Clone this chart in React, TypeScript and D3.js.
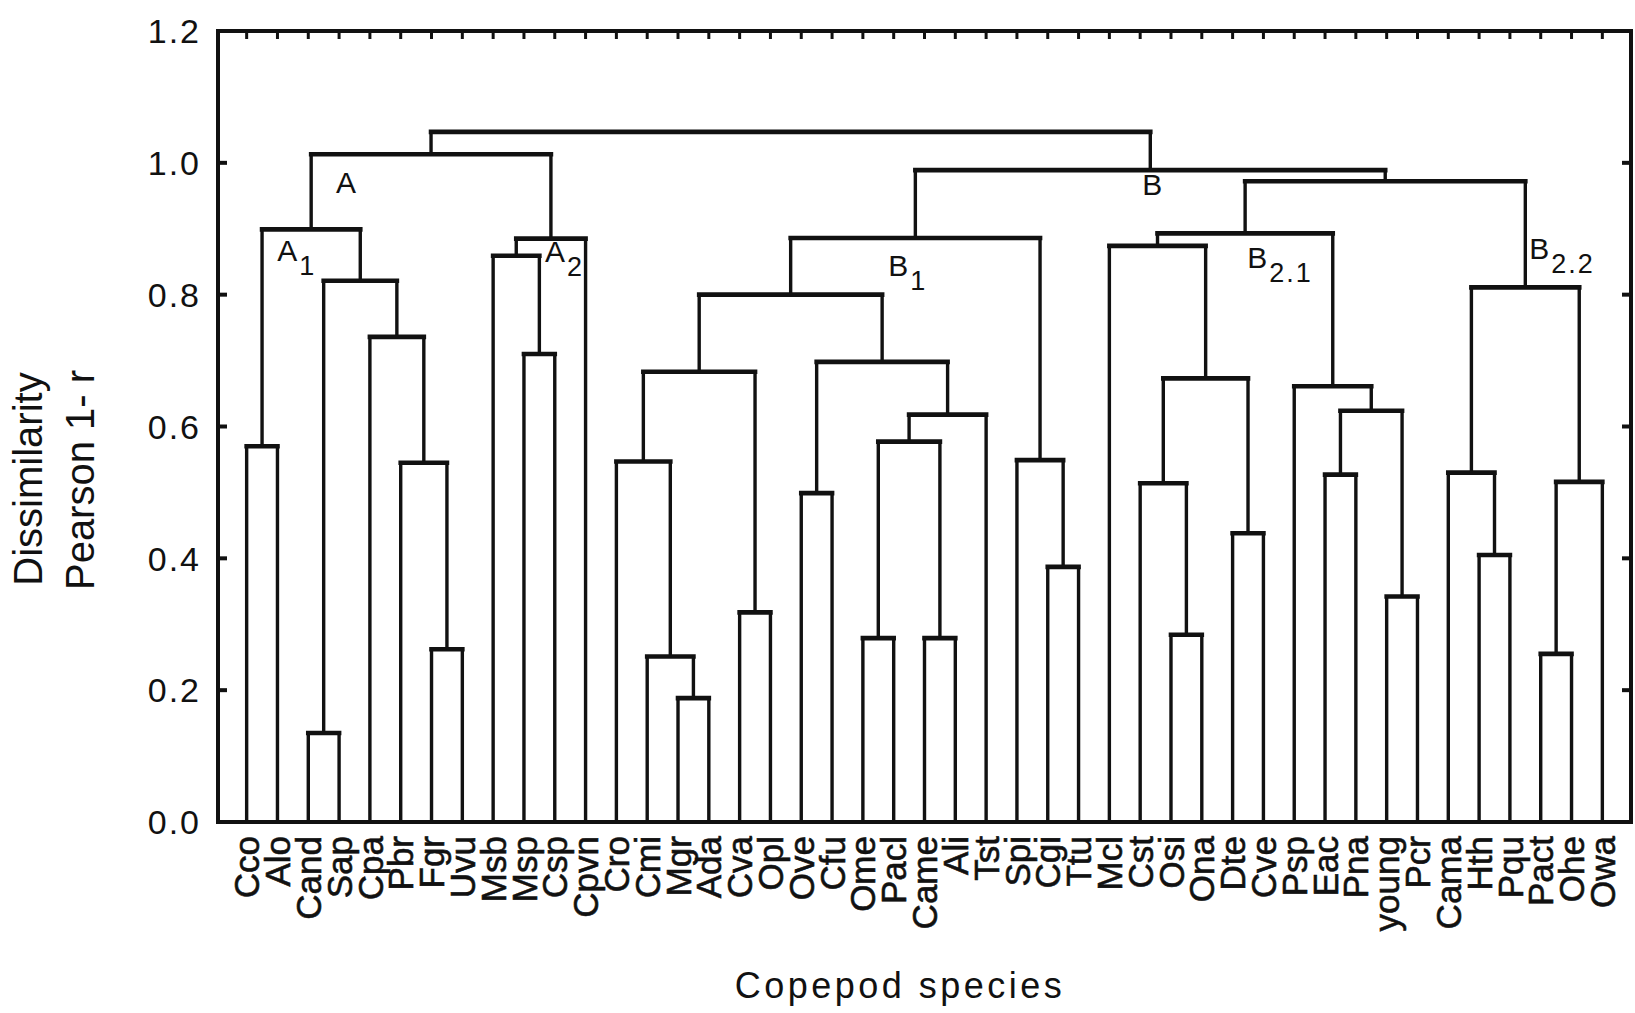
import React from 'react';
import * as d3 from 'd3';

// leaf order along the x axis
const species = [
  "Cco", "Alo", "Cand", "Sap", "Cpa", "Pbr", "Fgr", "Uvu", "Msb", "Msp", "Csp", "Cpvn",
  "Cro", "Cmi", "Mgr", "Ada", "Cva", "Opl", "Ove", "Cfu", "Ome", "Pacl", "Came", "Ali",
  "Tst", "Spi", "Cgi", "Ttu", "Mcl", "Cst", "Osi", "Ona", "Dte", "Cve", "Psp", "Eac",
  "Pna", "young", "Pcr", "Cama", "Hth", "Pqu", "Pact", "Ohe", "Owa"
];

// linkage: [node, left child, right child, dissimilarity]
const merges: [string, string, string, number][] = [
  ["n1", "Cco", "Alo", 0.570],
  ["n2", "Cand", "Sap", 0.135],
  ["n3", "Fgr", "Uvu", 0.262],
  ["n4", "Pbr", "n3", 0.545],
  ["n5", "Cpa", "n4", 0.736],
  ["n6", "n2", "n5", 0.821],
  ["A1", "n1", "n6", 0.899],
  ["n7", "Msp", "Csp", 0.710],
  ["n8", "Msb", "n7", 0.859],
  ["A2", "n8", "Cpvn", 0.885],
  ["A", "A1", "A2", 1.013],
  ["n9", "Mgr", "Ada", 0.188],
  ["n10", "Cmi", "n9", 0.251],
  ["n11", "Cro", "n10", 0.547],
  ["n12", "Cva", "Opl", 0.318],
  ["n13", "n11", "n12", 0.683],
  ["n14", "Ove", "Cfu", 0.499],
  ["n15", "Ome", "Pacl", 0.279],
  ["n16", "Came", "Ali", 0.279],
  ["n17", "n15", "n16", 0.577],
  ["n18", "n17", "Tst", 0.618],
  ["n19", "n14", "n18", 0.698],
  ["n20", "n13", "n19", 0.800],
  ["n21", "Cgi", "Ttu", 0.387],
  ["n22", "Spi", "n21", 0.549],
  ["B1", "n20", "n22", 0.886],
  ["n23", "Osi", "Ona", 0.284],
  ["n24", "Cst", "n23", 0.514],
  ["n25", "Dte", "Cve", 0.438],
  ["n26", "n24", "n25", 0.673],
  ["n27", "Mcl", "n26", 0.874],
  ["n28", "Eac", "Pna", 0.527],
  ["n29", "young", "Pcr", 0.342],
  ["n30", "n28", "n29", 0.624],
  ["n31", "Psp", "n30", 0.661],
  ["B21", "n27", "n31", 0.893],
  ["n32", "Hth", "Pqu", 0.405],
  ["n33", "Cama", "n32", 0.530],
  ["n34", "Pact", "Ohe", 0.255],
  ["n35", "n34", "Owa", 0.516],
  ["B22", "n33", "n35", 0.811],
  ["B2", "B21", "B22", 0.972],
  ["B", "B1", "B2", 0.989],
  ["root", "A", "B", 1.047]
];

const yTicks = [0, 0.2, 0.4, 0.6, 0.8, 1.0, 1.2];
const yTickLabels = ["0.0", "0.2", "0.4", "0.6", "0.8", "1.0", "1.2"];

// group names written on the tree
const groupNames = ["A", "A1", "A2", "B", "B1", "B21", "B22"];
const groupMain = ["A", "A", "A", "B", "B", "B", "B"];
const groupSub = ["", "1", "2", "", "1", "2.1", "2.2"];

// where each group name sits relative to its node (px)
const labelOffset: Record<string, [number, number]> = {
  A: [-95, 39],
  A1: [-34, 32],
  A2: [-6, 23],
  B: [-8, 25],
  B1: [-27, 38],
  B21: [2, 35],
  B22: [4, -28]
};

const FONT = '"Liberation Sans", Arial, Helvetica, sans-serif';

export default function App() {
  const W = 1635, H = 1013;
  const left = 218, right = 1631, top = 31, bottom = 822;

  const x = d3.scalePoint<string>().domain(species).range([left, right]).padding(0.93);
  const y = d3.scaleLinear().domain([0, 1.2]).range([bottom, top]);

  // node positions: leaves on the axis, merges at the mean of their children
  const pos: Record<string, { x: number; y: number }> = {};
  species.forEach(s => { pos[s] = { x: x(s) as number, y: y(0) }; });
  merges.forEach(([id, a, b, h]) => {
    pos[id] = { x: d3.mean([pos[a].x, pos[b].x]) as number, y: y(h) };
  });

  const verticals: JSX.Element[] = [];
  const horizontals: JSX.Element[] = [];
  merges.forEach(([id, a, b]) => {
    const n = pos[id], l = pos[a], r = pos[b];
    verticals.push(<line key={id + 'l'} x1={l.x} x2={l.x} y1={l.y} y2={n.y} />);
    verticals.push(<line key={id + 'r'} x1={r.x} x2={r.x} y1={r.y} y2={n.y} />);
    horizontals.push(<line key={id + 'h'} x1={l.x} x2={r.x} y1={n.y} y2={n.y} />);
  });

  const leafLabels = species.map(s => (
    <text
      key={s}
      transform={`translate(${x(s)},${bottom + 14}) rotate(-90)`}
      dy="0.36em"
      textAnchor="end"
      fontSize={35}
      stroke="#111"
      strokeWidth={0.6}
    >{s}</text>
  ));

  const topTicks = species.map(s => (
    <line key={s} x1={x(s)} x2={x(s)} y1={top} y2={top + 8} />
  ));

  const yAxis = yTicks.map((t, i) => (
    <g key={t}>
      <line x1={left} x2={left + 9} y1={y(t)} y2={y(t)} />
      <line x1={right} x2={right - 9} y1={y(t)} y2={y(t)} />
      <text x={201} y={y(t)} dy="0.36em" textAnchor="end" fontSize={34}
        letterSpacing={2} stroke="none" fill="#111">{yTickLabels[i]}</text>
    </g>
  ));

  const groupLabels = groupNames.map((g, i) => {
    const [dx, dy] = labelOffset[g];
    return (
      <text key={g} x={pos[g].x + dx} y={pos[g].y + dy} fontSize={30} fill="#111">
        {groupMain[i]}
        {groupSub[i] && (
          <tspan dy={14} dx={2} fontSize={27} letterSpacing={2}>{groupSub[i]}</tspan>
        )}
      </text>
    );
  });

  return (
    <div style={{ position: 'absolute', left: 0, top: 0, background: '#fff' }}>
      <svg width={W} height={H} style={{ display: 'block', fontFamily: FONT }}>
        <rect width={W} height={H} fill="#fff" />
        <g stroke="#111" strokeWidth={3.4} strokeLinecap="butt">{verticals}</g>
        <g stroke="#111" strokeWidth={4.6} strokeLinecap="square">{horizontals}</g>
        <rect x={left} y={top} width={right - left} height={bottom - top}
          fill="none" stroke="#111" strokeWidth={4} />
        <g stroke="#111" strokeWidth={3}>{topTicks}</g>
        <g stroke="#111" strokeWidth={4}>{yAxis}</g>
        <g fill="#111">{leafLabels}</g>
        {groupLabels}
        <text transform={`translate(42,479) rotate(-90)`} textAnchor="middle"
          fontSize={40} fill="#111">Dissimilarity</text>
        <text transform={`translate(94,480) rotate(-90)`} textAnchor="middle"
          fontSize={40} fill="#111">Pearson 1- r</text>
        <text x={900} y={998} textAnchor="middle" fontSize={36} letterSpacing={3.5}
          fill="#111">Copepod species</text>
      </svg>
    </div>
  );
}
